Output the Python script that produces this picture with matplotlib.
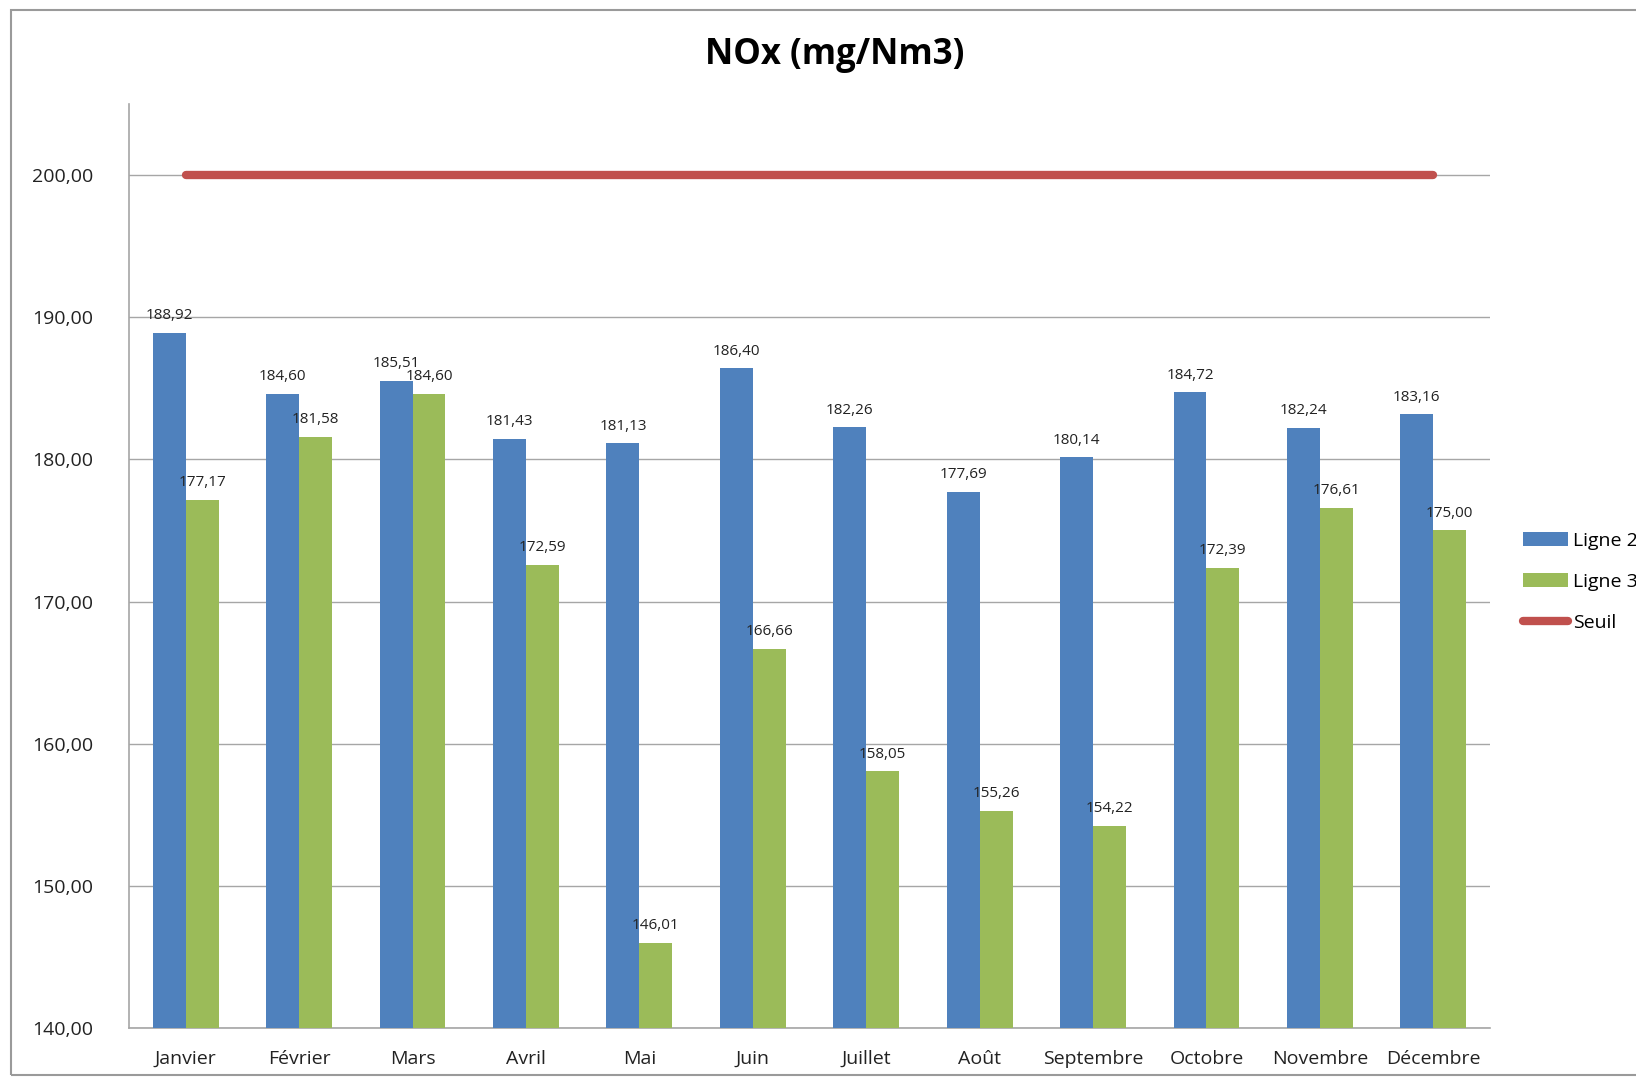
import matplotlib.pyplot as plt
from matplotlib.patches import Rectangle
import numpy as np

plt.rcParams['font.family'] = ['Open Sans', 'DejaVu Sans']

mois = ['Janvier', 'Février', 'Mars', 'Avril', 'Mai', 'Juin', 'Juillet',
        'Août', 'Septembre', 'Octobre', 'Novembre', 'Décembre']
ligne2 = [188.92, 184.60, 185.51, 181.43, 181.13, 186.40, 182.26,
          177.69, 180.14, 184.72, 182.24, 183.16]
ligne3 = [177.17, 181.58, 184.60, 172.59, 146.01, 166.66, 158.05,
          155.26, 154.22, 172.39, 176.61, 175.00]
seuil = [200.0] * 12
yticks = [140, 150, 160, 170, 180, 190, 200]

bleu = '#4F81BD'
vert = '#9BBB59'
rouge = '#C0504D'
gris = '#A6A6A6'


def fr(v):
    return '{:.2f}'.format(v).replace('.', ',')


fig = plt.figure(figsize=(16.36, 10.79), dpi=100)
ax = fig.add_axes([129 / 1636, 1 - 1028 / 1079, (1490 - 129) / 1636, (1028 - 104) / 1079])

x = np.arange(len(mois))
w = 0.29
b2 = ax.bar(x - w / 2, ligne2, w, color=bleu, label='Ligne 2', zorder=3)
b3 = ax.bar(x + w / 2, ligne3, w, color=vert, label='Ligne 3', zorder=3)
ls, = ax.plot(x, seuil, color=rouge, lw=6, solid_capstyle='round', label='Seuil', zorder=4)

for bars, vals in ((b2, ligne2), (b3, ligne3)):
    for r, v in zip(bars, vals):
        ax.annotate(fr(v), (r.get_x() + r.get_width() / 2, v), xytext=(0, 7),
                    textcoords='offset points', ha='center', va='bottom',
                    fontsize=11, color='#222222', zorder=5)

ax.set_ylim(140, 205)
ax.set_xlim(-0.5, len(mois) - 0.5)
ax.set_yticks(yticks)
ax.set_yticklabels([fr(t) for t in yticks])
ax.set_xticks(x)
ax.set_xticklabels(mois)
ax.tick_params(axis='both', length=0, labelsize=14, colors='#222222')
ax.tick_params(axis='y', pad=26)
ax.tick_params(axis='x', pad=16)
ax.grid(axis='y', color=gris, lw=1, zorder=0)
for s in ('top', 'right'):
    ax.spines[s].set_visible(False)
for s in ('left', 'bottom'):
    ax.spines[s].set_color(gris)
    ax.spines[s].set_linewidth(1.2)

fig.text(835 / 1636, 1 - 55 / 1079, 'NOx (mg/Nm3)', ha='center', va='center',
         fontsize=25, fontweight='bold', color='black')

fig.legend(handles=[b2, b3, ls], loc='center left',
           bbox_to_anchor=(1523 / 1636, 1 - 582 / 1079),
           frameon=False, fontsize=14, borderpad=0, borderaxespad=0,
           handlelength=2.3, handleheight=0.7, handletextpad=0.25,
           labelspacing=1.18)

fig.patches.append(Rectangle((11 / 1636, 4 / 1079), 1.0, 1 - 14 / 1079,
                             transform=fig.transFigure, fill=False,
                             edgecolor='#9A9A9A', lw=1.5))

fig.savefig('out.png')
